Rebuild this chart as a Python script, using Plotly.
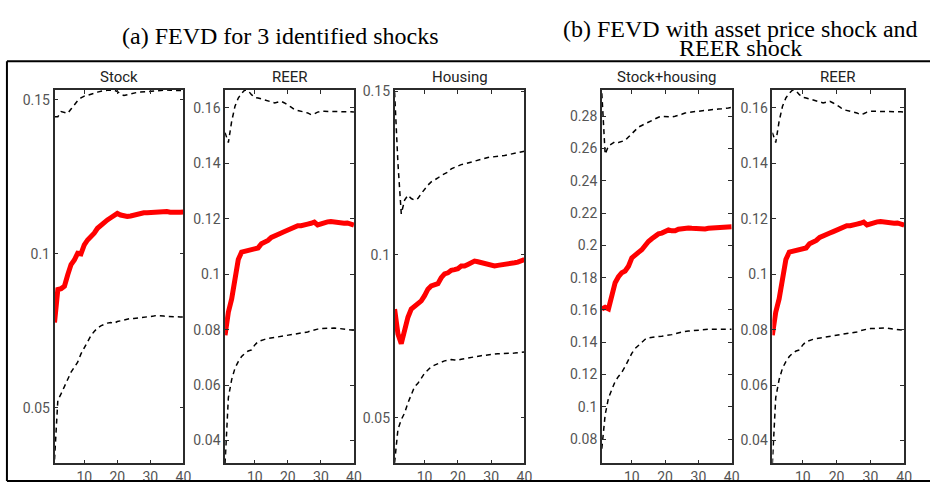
import plotly.graph_objects as go

W, H = 938, 485
horizon = list(range(1, 41))

panel_titles = ["Stock", "REER", "Housing", "Stock+housing", "REER"]

stock_median = [0.0777, 0.0884, 0.0887, 0.0895, 0.0932, 0.0965, 0.0980, 0.1002, 0.1000, 0.1029,
                0.1045, 0.1054, 0.1067, 0.1083, 0.1093, 0.1099, 0.1110, 0.1117, 0.1123, 0.1131,
                0.1126, 0.1122, 0.1121, 0.1123, 0.1126, 0.1128, 0.1131, 0.1133, 0.1133, 0.1134,
                0.1133, 0.1135, 0.1136, 0.1138, 0.1137, 0.1135, 0.1134, 0.1135, 0.1135, 0.1136]
stock_upper = [0.1445, 0.1445, 0.1462, 0.1458, 0.1456, 0.1470, 0.1485, 0.1497, 0.1506, 0.1512,
               0.1515, 0.1517, 0.1521, 0.1525, 0.1528, 0.1530, 0.1531, 0.1532, 0.1531, 0.1527,
               0.1518, 0.1514, 0.1517, 0.1520, 0.1522, 0.1524, 0.1525, 0.1526, 0.1527, 0.1528,
               0.1529, 0.1530, 0.1531, 0.1531, 0.1532, 0.1531, 0.1531, 0.1530, 0.1530, 0.1530]
stock_lower = [0.0332, 0.0525, 0.0546, 0.0568, 0.0594, 0.0616, 0.0632, 0.0648, 0.0675, 0.0696,
               0.0718, 0.0734, 0.0748, 0.0759, 0.0766, 0.0771, 0.0775, 0.0777, 0.0774, 0.0780,
               0.0783, 0.0786, 0.0788, 0.0790, 0.0790, 0.0791, 0.0792, 0.0793, 0.0794, 0.0796,
               0.0798, 0.0800, 0.0800, 0.0798, 0.0797, 0.0796, 0.0796, 0.0795, 0.0795, 0.0795]

reer_median = [0.0780, 0.0863, 0.0911, 0.0982, 0.1053, 0.1080, 0.1083, 0.1083, 0.1089, 0.1091,
               0.1095, 0.1110, 0.1115, 0.1122, 0.1133, 0.1137, 0.1143, 0.1149, 0.1154, 0.1160,
               0.1164, 0.1169, 0.1175, 0.1175, 0.1176, 0.1181, 0.1184, 0.1188, 0.1178, 0.1182,
               0.1187, 0.1189, 0.1190, 0.1188, 0.1187, 0.1182, 0.1184, 0.1185, 0.1182, 0.1177]
reer_upper = [0.1511, 0.1475, 0.1552, 0.1606, 0.1636, 0.1653, 0.1665, 0.1662, 0.1648, 0.1638,
              0.1636, 0.1633, 0.1630, 0.1626, 0.1622, 0.1618, 0.1620, 0.1624, 0.1618, 0.1612,
              0.1603, 0.1594, 0.1591, 0.1588, 0.1585, 0.1582, 0.1576, 0.1579, 0.1585, 0.1588,
              0.1588, 0.1588, 0.1588, 0.1588, 0.1588, 0.1588, 0.1587, 0.1586, 0.1586, 0.1585]
reer_lower = [0.0317, 0.0555, 0.0620, 0.0661, 0.0685, 0.0703, 0.0715, 0.0723, 0.0727, 0.0745,
              0.0757, 0.0762, 0.0765, 0.0768, 0.0770, 0.0771, 0.0772, 0.0774, 0.0777, 0.0780,
              0.0782, 0.0784, 0.0785, 0.0786, 0.0789, 0.0792, 0.0796, 0.0800, 0.0802, 0.0804,
              0.0805, 0.0806, 0.0806, 0.0806, 0.0805, 0.0804, 0.0803, 0.0802, 0.0800, 0.0798]

housing_median = [0.0833, 0.0757, 0.0727, 0.0772, 0.0808, 0.0833, 0.0843, 0.0848, 0.0858, 0.0874,
                  0.0894, 0.0904, 0.0907, 0.0911, 0.0929, 0.0941, 0.0944, 0.0952, 0.0954, 0.0957,
                  0.0965, 0.0965, 0.0970, 0.0975, 0.0980, 0.0978, 0.0975, 0.0973, 0.0970, 0.0967,
                  0.0965, 0.0967, 0.0968, 0.0970, 0.0972, 0.0973, 0.0975, 0.0977, 0.0980, 0.0985]
housing_upper = [0.1498, 0.1280, 0.1125, 0.1167, 0.1182, 0.1172, 0.1167, 0.1172, 0.1187, 0.1202,
                 0.1213, 0.1223, 0.1228, 0.1235, 0.1243, 0.1248, 0.1253, 0.1263, 0.1268, 0.1273,
                 0.1276, 0.1278, 0.1281, 0.1283, 0.1286, 0.1288, 0.1292, 0.1296, 0.1298, 0.1299,
                 0.1301, 0.1302, 0.1303, 0.1304, 0.1306, 0.1307, 0.1309, 0.1311, 0.1314, 0.1317]
housing_lower = [0.0362, 0.0464, 0.0494, 0.0514, 0.0545, 0.0570, 0.0595, 0.0605, 0.0620, 0.0636,
                 0.0646, 0.0656, 0.0661, 0.0666, 0.0671, 0.0674, 0.0676, 0.0678, 0.0677, 0.0676,
                 0.0679, 0.0681, 0.0684, 0.0686, 0.0687, 0.0688, 0.0690, 0.0691, 0.0693, 0.0694,
                 0.0695, 0.0696, 0.0696, 0.0696, 0.0697, 0.0698, 0.0698, 0.0699, 0.0700, 0.0701]

sh_median = [0.1606, 0.1616, 0.1606, 0.1688, 0.1769, 0.1806, 0.1831, 0.1841, 0.1871, 0.1922,
             0.1943, 0.1957, 0.1973, 0.2004, 0.2024, 0.2041, 0.2059, 0.2071, 0.2076, 0.2086,
             0.2096, 0.2090, 0.2090, 0.2100, 0.2104, 0.2106, 0.2108, 0.2106, 0.2104, 0.2102,
             0.2100, 0.2102, 0.2106, 0.2108, 0.2110, 0.2108, 0.2108, 0.2110, 0.2112, 0.2116]
sh_upper = [0.2943, 0.2565, 0.2616, 0.2630, 0.2643, 0.2637, 0.2643, 0.2651, 0.2671, 0.2692,
            0.2718, 0.2733, 0.2743, 0.2753, 0.2765, 0.2773, 0.2786, 0.2794, 0.2800, 0.2798,
            0.2797, 0.2796, 0.2800, 0.2804, 0.2812, 0.2820, 0.2824, 0.2827, 0.2829, 0.2831,
            0.2834, 0.2837, 0.2839, 0.2841, 0.2843, 0.2845, 0.2846, 0.2847, 0.2851, 0.2855]
sh_lower = [0.0740, 0.0950, 0.1055, 0.1106, 0.1157, 0.1188, 0.1214, 0.1249, 0.1290, 0.1331,
            0.1361, 0.1382, 0.1402, 0.1418, 0.1427, 0.1431, 0.1433, 0.1435, 0.1437, 0.1439,
            0.1443, 0.1447, 0.1453, 0.1459, 0.1463, 0.1467, 0.1469, 0.1471, 0.1475, 0.1478,
            0.1479, 0.1480, 0.1480, 0.1480, 0.1480, 0.1480, 0.1481, 0.1482, 0.1481, 0.1480]

x_tickvals = [10, 20, 30, 40]
ytick_stock = [0.05, 0.1, 0.15]
ytick_stock_text = ["0.05", "0.1", "0.15"]
ytick_reer = [0.04, 0.06, 0.08, 0.1, 0.12, 0.14, 0.16]
ytick_reer_text = ["0.04", "0.06", "0.08", "0.1", "0.12", "0.14", "0.16"]
ytick_housing = [0.05, 0.1, 0.15]
ytick_housing_text = ["0.05", "0.1", "0.15"]
ytick_sh = [0.08, 0.1, 0.12, 0.14, 0.16, 0.18, 0.2, 0.22, 0.24, 0.26, 0.28]
ytick_sh_text = ["0.08", "0.1", "0.12", "0.14", "0.16", "0.18", "0.2", "0.22", "0.24", "0.26", "0.28"]

panels = [
    dict(med=stock_median, up=stock_upper, lo=stock_lower, yr=[0.032, 0.1532],
         tv=ytick_stock, tt=ytick_stock_text, px=(55, 185)),
    dict(med=reer_median, up=reer_upper, lo=reer_lower, yr=[0.0318, 0.1665],
         tv=ytick_reer, tt=ytick_reer_text, px=(227, 357)),
    dict(med=housing_median, up=housing_upper, lo=housing_lower, yr=[0.036, 0.1505],
         tv=ytick_housing, tt=ytick_housing_text, px=(398, 529)),
    dict(med=sh_median, up=sh_upper, lo=sh_lower, yr=[0.065, 0.2963],
         tv=ytick_sh, tt=ytick_sh_text, px=(607, 738)),
    dict(med=reer_median, up=reer_upper, lo=reer_lower, yr=[0.0318, 0.1665],
         tv=ytick_reer, tt=ytick_reer_text, px=(779, 912)),
]

fig = go.Figure()
ydom = [1 - 463 / H, 1 - 85 / H]
tickfont = dict(family="Roboto", size=14, color="#555555")
axis_common = dict(showline=True, linecolor="#2b2b2b", linewidth=1.5, mirror="ticks",
                   ticks="inside", ticklen=4, tickwidth=1, tickcolor="#2b2b2b",
                   showgrid=False, zeroline=False, tickfont=tickfont, fixedrange=True)
layout_axes = {}
annotations = []
for i, p in enumerate(panels, start=1):
    xa = "x" if i == 1 else f"x{i}"
    ya = "y" if i == 1 else f"y{i}"
    dash_style = dict(color="black", width=1.5, dash="5px,4px")
    fig.add_trace(go.Scatter(x=horizon, y=p["up"], mode="lines", line=dash_style,
                             xaxis=xa, yaxis=ya, showlegend=False, hoverinfo="skip"))
    fig.add_trace(go.Scatter(x=horizon, y=p["lo"], mode="lines", line=dash_style,
                             xaxis=xa, yaxis=ya, showlegend=False, hoverinfo="skip"))
    fig.add_trace(go.Scatter(x=horizon, y=p["med"], mode="lines",
                             line=dict(color="#ff0000", width=5),
                             xaxis=xa, yaxis=ya, showlegend=False))
    xdom = [p["px"][0] / W, p["px"][1] / W]
    layout_axes["xaxis" if i == 1 else f"xaxis{i}"] = dict(
        domain=xdom, range=[1, 40], tickvals=x_tickvals, anchor=ya, **axis_common)
    layout_axes["yaxis" if i == 1 else f"yaxis{i}"] = dict(
        domain=ydom, range=p["yr"], tickvals=p["tv"], ticktext=p["tt"], anchor=xa, **axis_common)
    annotations.append(dict(text=panel_titles[i - 1], x=(xdom[0] + xdom[1]) / 2, y=1 - 72 / H,
                            xref="paper", yref="paper", showarrow=False, xanchor="center",
                            yanchor="middle", font=dict(family="Roboto", size=15, color="#222222")))

serif = dict(family="Liberation Serif", size=24, color="black")
annotations += [
    dict(text="(a) FEVD for 3 identified shocks", x=283 / W, y=1 - 30 / H, xref="paper",
         yref="paper", showarrow=False, xanchor="center", yanchor="middle", font=serif),
    dict(text="(b) FEVD with asset price shock and", x=747 / W, y=1 - 23 / H, xref="paper",
         yref="paper", showarrow=False, xanchor="center", yanchor="middle", font=serif),
    dict(text="REER shock", x=747 / W, y=1 - 43 / H, xref="paper",
         yref="paper", showarrow=False, xanchor="center", yanchor="middle", font=serif),
]

frame = dict(color="black", width=2)
shapes = [
    dict(type="line", xref="paper", yref="paper", x0=7 / W, x1=1, y0=1 - 56 / H, y1=1 - 56 / H, line=frame),
    dict(type="line", xref="paper", yref="paper", x0=7 / W, x1=1, y0=1 - 481 / H, y1=1 - 481 / H, line=frame),
    dict(type="line", xref="paper", yref="paper", x0=7 / W, x1=7 / W, y0=1 - 481 / H, y1=1 - 56 / H, line=frame),
]

fig.update_layout(width=W, height=H, margin=dict(l=0, r=0, t=0, b=0),
                  paper_bgcolor="white", plot_bgcolor="white",
                  annotations=annotations, shapes=shapes, **layout_axes)
fig.write_html("out.html", config={"displayModeBar": False},
               post_script="document.body.style.margin='0';document.body.style.padding='0';"
                           "document.body.style.overflow='hidden';"
                           "var d=document.getElementById('{plot_id}');"
                           "d.style.position='fixed';d.style.top='0px';d.style.left='0px';")
